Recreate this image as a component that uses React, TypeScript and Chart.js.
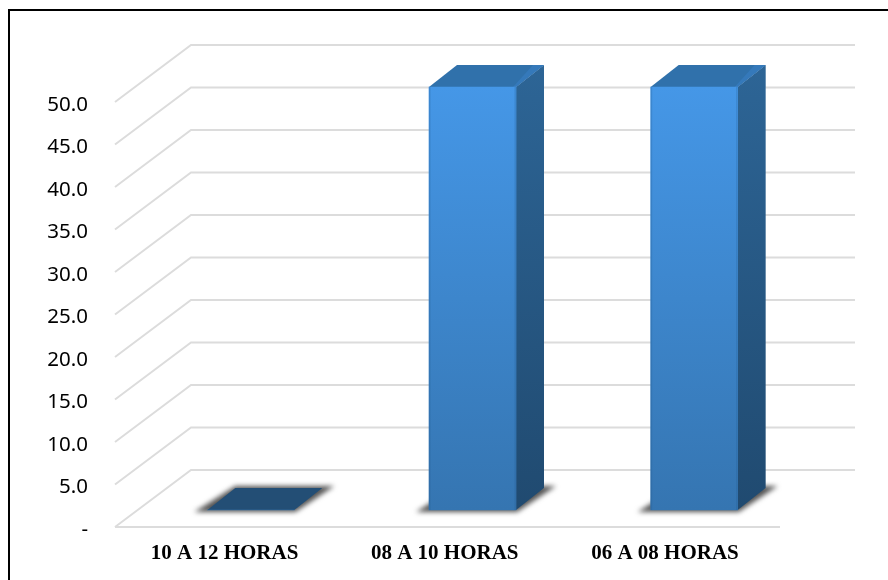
import React, { useEffect, useRef } from "react";
import { Chart, registerables } from "chart.js";

Chart.register(...registerables);

const categories = ["10 A 12 HORAS", "08 A 10 HORAS", "06 A 08 HORAS"];
const shares = [0, 50, 50];
const tickStep = 5;
const tickMax = 50;

// Oblique projection of the 3D box, in pixels.
const WALL_DX = 76;
const WALL_DY = -57;
const BAR_DX = 28;
const BAR_DY = -22;
const FLOOR_OFFSET_X = 25;
const WALL_RIGHT_EXTRA = 75;

const GRID = "#dcdcdc";

const box3dPlugin = {
  id: "box3d",
  beforeDatasetsDraw(chart: any) {
    const { ctx, scales } = chart;
    const y = scales.y;
    const frontLeft = chart.chartArea.left - FLOOR_OFFSET_X;
    const frontRight = chart.chartArea.right - FLOOR_OFFSET_X;

    ctx.save();
    ctx.strokeStyle = GRID;
    ctx.lineWidth = 2;
    for (let v = 0; v <= tickMax; v += tickStep) {
      const py = y.getPixelForValue(v);
      ctx.beginPath();
      ctx.moveTo(frontLeft, py);
      ctx.lineTo(frontLeft + WALL_DX, py + WALL_DY);
      ctx.lineTo(frontRight + WALL_RIGHT_EXTRA, py + WALL_DY);
      ctx.stroke();
    }
    const floorY = y.getPixelForValue(0);
    ctx.beginPath();
    ctx.moveTo(frontLeft, floorY);
    ctx.lineTo(frontRight, floorY);
    ctx.stroke();

    const meta = chart.getDatasetMeta(0);
    meta.data.forEach((bar: any, i: number) => {
      const { x, y: top, base, width } = bar.getProps(["x", "y", "base", "width"], true);
      const l = x - width / 2;
      const r = x + width / 2;

      // Soft contact shadow on the floor.
      ctx.save();
      ctx.filter = "blur(2.5px)";
      ctx.fillStyle = "#555555";
      ctx.beginPath();
      ctx.moveTo(l - 13, base + 2);
      ctx.lineTo(r + 1, base + 2);
      ctx.lineTo(r + BAR_DX + 12, base + BAR_DY - 2);
      ctx.lineTo(l + BAR_DX, base + BAR_DY - 2);
      ctx.closePath();
      ctx.fill();
      ctx.restore();

      if (shares[i] > 0) {
        const side = ctx.createLinearGradient(0, top + BAR_DY, 0, base);
        side.addColorStop(0, "#2d6596");
        side.addColorStop(1, "#204a70");
        ctx.fillStyle = side;
        ctx.beginPath();
        ctx.moveTo(r, top);
        ctx.lineTo(r + BAR_DX, top + BAR_DY);
        ctx.lineTo(r + BAR_DX, base + BAR_DY);
        ctx.lineTo(r, base);
        ctx.closePath();
        ctx.fill();
      }

      // Cap of the column; a zero value leaves only this face.
      ctx.fillStyle = shares[i] > 0 ? "#3071ab" : "#234e75";
      ctx.beginPath();
      ctx.moveTo(l, top);
      ctx.lineTo(r, top);
      ctx.lineTo(r + BAR_DX, top + BAR_DY);
      ctx.lineTo(l + BAR_DX, top + BAR_DY);
      ctx.closePath();
      ctx.fill();

      // Bevel where the cap meets the side face.
      if (shares[i] > 0) {
        ctx.fillStyle = "#3579ba";
        ctx.beginPath();
        ctx.moveTo(r - 3, top);
        ctx.lineTo(r, top);
        ctx.lineTo(r + BAR_DX, top + BAR_DY);
        ctx.lineTo(r + BAR_DX - 11, top + BAR_DY);
        ctx.closePath();
        ctx.fill();
      }
    });
    ctx.restore();
  },
  afterDatasetsDraw(chart: any) {
    const { ctx } = chart;
    const meta = chart.getDatasetMeta(0);
    ctx.save();
    meta.data.forEach((bar: any, i: number) => {
      if (shares[i] <= 0) return;
      const { x, y: top, base, width } = bar.getProps(["x", "y", "base", "width"], true);
      const l = x - width / 2;
      const r = x + width / 2;
      // Darker rim along the vertical edges of the front face.
      ctx.strokeStyle = "rgba(30,80,130,0.22)";
      ctx.lineWidth = 1.5;
      ctx.beginPath();
      ctx.moveTo(l + 0.75, top);
      ctx.lineTo(l + 0.75, base);
      ctx.moveTo(r - 0.75, top);
      ctx.lineTo(r - 0.75, base);
      ctx.stroke();
    });
    ctx.restore();
  },
  afterDraw(chart: any) {
    const { ctx, width, height } = chart;
    // Frame: only the top and left rules are visible.
    ctx.save();
    ctx.strokeStyle = "#000";
    ctx.lineWidth = 2;
    ctx.beginPath();
    ctx.moveTo(9, height);
    ctx.lineTo(9, 10);
    ctx.lineTo(width, 10);
    ctx.stroke();
    ctx.restore();
  },
};

export default function App() {
  const ref = useRef<HTMLCanvasElement | null>(null);

  useEffect(() => {
    const canvas = ref.current;
    if (!canvas) return;
    const chart = new Chart(canvas, {
      type: "bar",
      data: {
        labels: categories,
        datasets: [
          {
            data: shares,
            xAxisID: "xBars",
            yAxisID: "yBars",
            barThickness: 87,
            borderWidth: 0,
            backgroundColor: (c: any) => {
              const g = c.chart.ctx.createLinearGradient(0, 87, 0, 510);
              g.addColorStop(0, "#4597e7");
              g.addColorStop(1, "#3575b1");
              return g;
            },
          },
        ],
      },
      plugins: [box3dPlugin],
      options: {
        responsive: false,
        animation: false,
        layout: { padding: { left: 0, top: 45, right: 83, bottom: 0 } },
        plugins: { legend: { display: false }, tooltip: { enabled: false } },
        scales: {
          x: {
            type: "linear",
            position: "bottom",
            offset: false,
            min: -0.3837,
            max: 2.6357,
            grid: { display: false, drawTicks: false },
            border: { display: false },
            afterBuildTicks: (s: any) => {
              s.ticks = categories.map((_, i) => ({ value: i }));
            },
            afterFit: (s: any) => {
              s.height = 53;
              s.paddingLeft = 0;
              s.paddingRight = 0;
            },
            ticks: {
              autoSkip: false,
              maxRotation: 0,
              padding: 14,
              color: "#000",
              font: { family: "Liberation Serif", size: 21, weight: "bold" },
              callback: (v: any) => categories[v] ?? "",
            },
          },
          xBars: {
            type: "category",
            display: false,
            offset: true,
          },
          y: {
            type: "linear",
            min: 0,
            max: 56.7,
            grid: { display: false, drawTicks: false },
            border: { display: false },
            afterFit: (s: any) => {
              s.width = 140;
              s.paddingTop = 0;
              s.paddingBottom = 0;
            },
            ticks: {
              stepSize: tickStep,
              padding: 52,
              labelOffset: 3,
              color: "#000",
              font: { family: "Noto Sans", size: 20.5 },
              callback: (v: any) => (v > tickMax ? null : v === 0 ? "-" : Number(v).toFixed(1)),
            },
          },
          yBars: {
            type: "linear",
            display: false,
            min: -2.01,
            max: 54.96,
          },
        },
      },
    } as any);
    return () => chart.destroy();
  }, []);

  return (
    <div style={{ position: "absolute", left: 0, top: 0 }}>
      <canvas ref={ref} width={888} height={580} style={{ display: "block" }} />
    </div>
  );
}
